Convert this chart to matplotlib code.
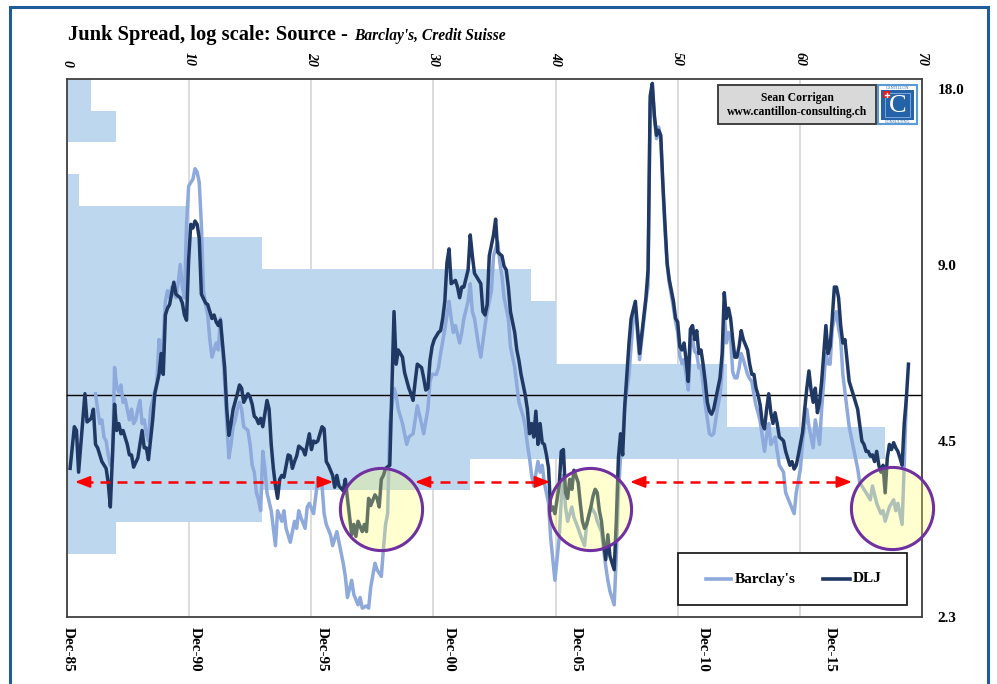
import numpy as np
import matplotlib
matplotlib.use("Agg")
import matplotlib.pyplot as plt
from matplotlib.patches import Rectangle
from matplotlib.lines import Line2D
from matplotlib.ticker import NullLocator

SERIF = ['Liberation Serif', 'DejaVu Serif']

# ---------------------------------------------------------------- data
# x = months since Dec-1985, y = junk spread (%)
dlj_month = [
    1, 3, 4, 5, 8, 9, 11, 12, 13, 14, 16, 18, 19, 20, 22, 23, 24, 25, 26, 28,
    29, 30, 31, 33, 35, 36, 37, 38, 40, 41, 43, 44, 45, 46, 47, 48, 50, 51, 53, 54,
    55, 56, 57, 58, 59, 60, 61, 62, 63, 65, 66, 68, 69, 70, 71, 72, 74, 75, 76, 77,
    78, 80, 81, 82, 83, 85, 86, 87, 88, 89, 90, 91, 92, 94, 95, 96, 97, 98, 99, 100,
    101, 102, 104, 105, 106, 107, 108, 109, 111, 112, 113, 114, 115, 116, 117, 118, 120, 121, 122, 123,
    125, 126, 127, 128, 130, 131, 132, 134, 135, 136, 137, 139, 140, 141, 142, 143, 145, 146, 147, 148,
    149, 150, 152, 153, 154, 155, 156, 158, 159, 161, 162, 163, 164, 165, 167, 168, 169, 170, 171, 172,
    173, 175, 176, 177, 178, 179, 180, 181, 183, 184, 185, 186, 187, 189, 190, 191, 192, 193, 195, 196,
    197, 198, 199, 200, 201, 202, 203, 205, 206, 207, 208, 209, 211, 212, 213, 214, 216, 217, 218, 219,
    220, 221, 222, 223, 224, 225, 226, 227, 228, 229, 230, 232, 233, 234, 235, 236, 237, 238, 239, 241,
    242, 243, 244, 245, 247, 248, 249, 250, 251, 252, 253, 254, 255, 256, 258, 259, 260, 261, 262, 263,
    264, 265, 266, 268, 270, 273, 274, 275, 276, 277, 278, 279, 280, 281, 282, 283, 284, 286, 287, 288,
    289, 290, 291, 292, 293, 294, 295, 296, 297, 298, 299, 300, 301, 302, 303, 304, 305, 306, 307, 308,
    309, 310, 311, 312, 313, 314, 315, 316, 317, 318, 319, 321, 322, 323, 324, 325, 326, 327, 328, 329,
    330, 331, 332, 333, 334, 335, 336, 337, 338, 339, 341, 342, 343, 344, 345, 347, 348, 349, 350, 351,
    352, 353, 354, 355, 356, 357, 358, 359, 360, 361, 362, 363, 364, 365, 366, 367, 368, 369, 370, 371,
    373, 374, 375, 376, 377, 378, 379, 380, 381, 382, 383, 384, 385, 386, 387, 388, 389, 390, 391, 392,
    393, 394, 395, 396, 397,
]
dlj_spread = [
    4.04, 4.76, 4.69, 3.98, 5.42, 4.85, 4.92, 5.10, 4.44, 4.38, 4.15, 4.04, 3.82, 3.47, 5.20, 4.69, 4.82, 4.63, 4.69, 4.44,
    4.26, 4.26, 4.06, 4.21, 4.69, 4.38, 4.38, 4.18, 4.89, 5.42, 5.85, 6.35, 5.85, 7.39, 7.59, 7.70, 8.41, 8.02, 7.91, 7.75,
    7.39, 7.24, 9.20, 10.56, 10.41, 10.70, 10.56, 9.99, 8.02, 7.75, 7.70, 7.29, 7.39, 7.19, 7.09, 7.24, 6.01, 5.10, 4.60, 4.82,
    5.10, 5.42, 5.61, 5.54, 5.24, 5.42, 5.35, 5.20, 4.96, 4.92, 4.82, 4.92, 4.76, 5.28, 5.10, 4.44, 4.04, 3.77, 3.59, 3.87,
    3.93, 3.90, 4.26, 4.24, 4.04, 4.15, 4.24, 4.41, 4.35, 4.26, 4.44, 4.63, 4.35, 4.50, 4.47, 4.50, 4.76, 4.72, 4.15, 4.09,
    3.93, 3.75, 3.93, 3.77, 3.70, 3.87, 3.59, 3.11, 3.24, 3.09, 3.28, 3.15, 3.24, 3.15, 3.59, 3.49, 3.64, 3.59, 3.47, 3.87,
    3.93, 4.04, 4.09, 5.54, 7.49, 6.09, 6.44, 6.26, 5.89, 5.54, 5.42, 5.28, 5.69, 6.09, 6.01, 5.77, 5.50, 5.54, 6.18, 6.53,
    6.71, 6.90, 6.95, 7.29, 7.80, 9.08, 9.59, 8.36, 8.47, 8.25, 7.91, 8.25, 8.25, 8.83, 10.13, 9.33, 8.71, 8.59, 8.36, 7.49,
    7.39, 7.70, 9.33, 9.72, 10.13, 10.78, 9.46, 9.33, 8.95, 8.83, 8.25, 7.49, 6.90, 6.44, 6.18, 5.85, 5.39, 5.10, 4.63, 4.82,
    4.57, 5.06, 4.44, 4.82, 4.47, 4.44, 4.26, 4.04, 3.42, 3.47, 3.38, 3.77, 4.32, 4.35, 3.67, 3.59, 3.87, 3.72, 4.01, 3.82,
    3.52, 3.28, 3.19, 3.24, 3.47, 3.62, 3.72, 3.67, 3.42, 3.28, 3.02, 2.82, 3.11, 2.86, 2.71, 3.28, 4.21, 4.63, 4.26, 5.17,
    5.85, 6.62, 7.29, 7.80, 6.35, 7.91, 8.83, 17.5, 18.4, 16.2, 15.0, 15.3, 15.0, 12.4, 10.56, 9.08, 8.50, 7.80, 7.29, 7.19,
    6.53, 6.44, 6.62, 6.18, 5.69, 6.99, 7.09, 6.71, 6.95, 6.35, 6.44, 6.09, 5.69, 5.24, 5.06, 5.00, 5.10, 5.31, 5.54, 5.77,
    6.35, 8.07, 7.29, 7.59, 7.29, 6.71, 6.26, 6.26, 6.53, 6.95, 6.71, 6.44, 6.09, 5.85, 5.85, 5.54, 5.39, 5.17, 4.82, 4.72,
    5.10, 5.42, 5.03, 4.82, 5.03, 4.82, 4.57, 4.54, 4.50, 4.32, 4.09, 4.15, 4.03, 4.09, 4.26, 4.66, 5.10, 5.54, 5.93, 5.50,
    5.24, 5.54, 5.03, 5.24, 5.69, 6.35, 7.09, 6.35, 6.53, 7.29, 8.25, 8.25, 7.91, 7.09, 6.62, 6.71, 6.18, 5.69, 5.54, 5.39,
    5.10, 4.79, 4.50, 4.44, 4.32, 4.32, 4.24, 4.26, 4.15, 4.32, 4.09, 3.98, 4.09, 3.67, 4.21, 4.44, 4.35, 4.47, 4.38, 4.32,
    4.21, 4.09, 4.82, 5.31, 6.09,
]

barclays_month = [
    13, 14, 15, 16, 17, 18, 19, 20, 21, 22, 23, 24, 25, 26, 27, 29, 30, 31, 32, 33,
    34, 35, 36, 37, 38, 39, 41, 42, 43, 44, 45, 46, 47, 48, 49, 51, 52, 53, 54, 55,
    56, 57, 59, 60, 61, 62, 63, 64, 65, 66, 67, 68, 69, 70, 71, 72, 74, 75, 76, 77,
    78, 79, 80, 81, 82, 83, 85, 86, 87, 88, 89, 90, 91, 92, 93, 94, 96, 97, 98, 99,
    101, 102, 103, 105, 107, 108, 109, 110, 112, 113, 114, 116, 117, 118, 120, 121, 122, 124, 125, 127,
    128, 130, 131, 132, 134, 135, 137, 138, 139, 141, 142, 143, 145, 146, 148, 149, 150, 151, 152, 154,
    155, 156, 158, 159, 160, 161, 163, 164, 165, 167, 168, 170, 171, 172, 174, 175, 176, 178, 180, 181,
    182, 183, 185, 186, 187, 189, 190, 191, 192, 194, 195, 197, 198, 200, 201, 203, 204, 205, 206, 208,
    209, 211, 212, 213, 215, 216, 217, 218, 219, 220, 222, 223, 224, 225, 227, 228, 229, 230, 232, 233,
    234, 235, 236, 238, 239, 241, 242, 244, 245, 247, 249, 250, 252, 253, 254, 255, 256, 258, 259, 260,
    261, 262, 263, 265, 266, 267, 268, 270, 273, 274, 275, 276, 277, 278, 279, 280, 281, 282, 283, 284,
    286, 287, 288, 289, 290, 291, 292, 293, 294, 295, 296, 297, 298, 299, 300, 301, 302, 303, 304, 305,
    306, 307, 308, 309, 310, 311, 312, 313, 314, 315, 316, 317, 318, 319, 321, 322, 323, 324, 325, 326,
    327, 328, 329, 330, 331, 332, 333, 334, 336, 338, 339, 341, 343, 344, 346, 347, 349, 350, 352, 353,
    355, 356, 358, 359, 360, 361, 362, 363, 364, 365, 366, 368, 369, 371, 373, 374, 376, 377, 379, 380,
    382, 384, 385, 386, 388, 390, 391, 392, 394, 395, 396,
]
barclays_spread = [
    5.42, 5.10, 4.82, 4.89, 4.57, 4.50, 4.26, 4.09, 4.15, 6.01, 5.58, 5.46, 5.61, 5.24, 5.31, 4.89, 5.10, 4.82, 4.89, 5.10,
    5.28, 4.82, 4.89, 4.63, 4.50, 5.10, 5.46, 5.69, 6.71, 6.09, 6.71, 7.80, 8.13, 7.91, 8.25, 7.91, 8.36, 9.02, 8.25, 7.91,
    10.56, 12.28, 12.62, 13.15, 12.98, 12.45, 10.56, 8.13, 7.70, 7.39, 6.71, 6.26, 6.44, 6.62, 6.44, 7.29, 5.69, 4.82, 4.21, 4.44,
    4.76, 4.89, 5.10, 5.24, 5.10, 4.76, 4.69, 4.44, 4.09, 3.98, 3.67, 3.57, 3.42, 4.32, 4.04, 3.67, 3.42, 3.19, 2.98, 3.42,
    3.28, 3.42, 3.19, 3.02, 3.28, 3.19, 3.42, 3.33, 3.19, 3.47, 3.52, 3.38, 3.62, 3.87, 3.77, 3.38, 3.24, 3.11, 2.98, 3.15,
    3.02, 2.78, 2.64, 2.43, 2.60, 2.46, 2.36, 2.43, 2.33, 2.35, 2.33, 2.53, 2.78, 2.71, 2.64, 2.94, 3.24, 3.38, 4.82, 5.54,
    5.39, 5.10, 4.82, 4.63, 4.44, 4.57, 4.63, 4.89, 5.17, 4.82, 4.63, 5.10, 5.69, 5.85, 5.85, 6.01, 6.35, 6.99, 7.80, 7.29,
    6.90, 7.09, 6.62, 6.90, 7.29, 7.80, 8.36, 7.49, 7.29, 6.53, 6.26, 7.09, 7.49, 8.13, 9.33, 9.86, 9.08, 8.59, 7.91, 7.29,
    6.53, 6.01, 5.61, 5.24, 4.96, 4.76, 4.44, 4.21, 3.93, 3.77, 4.15, 3.98, 4.09, 3.82, 3.52, 3.07, 2.82, 2.60, 3.07, 3.57,
    3.93, 3.47, 3.28, 3.47, 3.33, 3.19, 3.11, 2.98, 3.24, 3.47, 3.38, 3.28, 3.15, 2.94, 2.75, 2.60, 2.49, 2.36, 2.86, 3.67,
    4.21, 4.50, 5.17, 5.85, 6.53, 7.29, 7.60, 6.20, 7.80, 8.30, 17.0, 18.2, 16.0, 14.8, 15.5, 14.8, 12.2, 10.3, 9.0, 8.4,
    7.6, 7.2, 6.9, 6.3, 6.1, 6.2, 5.85, 5.5, 6.6, 6.71, 6.4, 6.35, 6.0, 6.05, 5.6, 5.2, 4.9, 4.63, 4.6, 4.63,
    4.9, 5.17, 5.4, 5.93, 7.49, 6.62, 6.9, 6.71, 5.9, 5.77, 5.77, 6.0, 6.35, 6.2, 5.85, 5.75, 5.69, 5.4, 5.17, 5.03,
    4.85, 4.57, 4.32, 4.6, 4.82, 4.44, 4.5, 4.57, 4.09, 3.98, 3.67, 3.52, 3.38, 3.67, 4.04, 4.50, 5.10, 4.76, 4.38, 4.89,
    4.44, 5.10, 6.35, 6.1, 6.09, 7.0, 7.29, 7.49, 7.0, 6.71, 5.85, 5.10, 4.76, 4.38, 4.04, 3.82, 3.72, 3.67, 3.57, 3.77,
    3.52, 3.38, 3.42, 3.28, 3.47, 3.57, 3.42, 3.52, 3.24, 4.09, 5.31,
]

# months spent in each spread bucket, lowest bucket first (top axis, 0-70)
hist_counts = [0, 0, 4, 16, 33, 67, 54, 54, 40, 40, 38, 16, 10, 1, 0, 4, 2]

long_run_level = 5.4
floor_level = 3.83
arrow_spans = [(3.3, 125.2), (163.9, 227.7), (265.5, 370.3)]
circle_centres = [(147.8, 3.44), (246.6, 3.44), (389.2, 3.45)]

y_ticks = [2.25, 4.5, 9.0, 18.0]
y_tick_labels = ['2.3', '4.5', '9.0', '18.0']
date_ticks = [0, 60, 120, 180, 240, 300, 360]
date_labels = ['Dec-85', 'Dec-90', 'Dec-95', 'Dec-00', 'Dec-05', 'Dec-10', 'Dec-15']
count_ticks = list(range(0, 71, 10))

# ---------------------------------------------------------------- figure
W, H = 997, 684
fig = plt.figure(figsize=(W / 100, H / 100), dpi=100)
fig.patch.set_facecolor('white')


def fx(px):
    return px / W


def fy(py):
    return 1 - py / H


L, T, R, B = 67, 79, 922, 617
pos = [fx(L), fy(B), (R - L) / W, (B - T) / H]

# histogram axes (top count axis)
ax_h = fig.add_axes(pos, zorder=1)
ax_h.set_xlim(0, 70)
ax_h.set_ylim(0, len(hist_counts))
ax_h.barh(np.arange(len(hist_counts)) + 0.5, hist_counts, height=1.0,
          color='#BDD7EE', linewidth=0, zorder=2)
ax_h.xaxis.tick_top()
ax_h.set_xticks(count_ticks, [str(c) for c in count_ticks], rotation=-90,
                fontstyle='italic', fontweight='bold', fontsize=10, family=SERIF)
ax_h.tick_params(axis='x', length=0, pad=9)
ax_h.set_yticks([])
ax_h.set_axisbelow(True)
ax_h.grid(axis='x', color='#D9D9D9', linewidth=1.3)
for sp in ax_h.spines.values():
    sp.set_visible(False)

# spread axes (dates along the bottom, log scale on the right)
ax = fig.add_axes(pos, zorder=2)
ax.patch.set_alpha(0)
ax.set_yscale('log')
ax.set_ylim(2.25, 18.72)
ax.set_xlim(-0.47, 403.4)
ax.yaxis.tick_right()
ax.set_yticks(y_ticks, y_tick_labels, fontsize=11, fontweight='bold', family=SERIF)
ax.yaxis.set_minor_locator(NullLocator())
ax.set_xticks(date_ticks, date_labels, rotation=-90, fontsize=11,
              fontweight='bold', family=SERIF)
ax.tick_params(length=0)
ax.tick_params(axis='y', pad=11)
ax.tick_params(axis='x', pad=7)
for sp in ax.spines.values():
    sp.set_color('#404040')
    sp.set_linewidth(1.3)

ax.axhline(long_run_level, color='black', linewidth=1.0, zorder=3)
ax.plot(barclays_month, barclays_spread, color='#8EA9DB', linewidth=2.5,
        solid_joinstyle='round', zorder=4)
ax.plot(dlj_month, dlj_spread, color='#1F3864', linewidth=2.5,
        solid_joinstyle='round', zorder=5)

# double-headed dashed arrows marking the floor
for a, b in arrow_spans:
    ax.plot([a + 4, b - 4], [floor_level, floor_level], color='red',
            linewidth=1.8, linestyle=(0, (4, 2.8)), zorder=6)
    for tip, tail in ((a, a + 5), (b, b - 5)):
        ax.annotate('', xy=(tip, floor_level), xytext=(tail, floor_level),
                    arrowprops=dict(arrowstyle='-|>,head_length=0.9,head_width=0.35',
                                    color='red', lw=1.5, shrinkA=0, shrinkB=0),
                    zorder=6)

cx, cy = zip(*circle_centres)
ax.scatter(cx, cy, s=3500, facecolors=[(1, 1, 0.4, 0.3)], edgecolors='#7030A0',
           linewidths=2.2, zorder=7, clip_on=False)

# legend
fig.add_artist(Rectangle((fx(678), fy(605)), fx(907) - fx(678), fy(553) - fy(605),
                         transform=fig.transFigure, facecolor='white',
                         edgecolor='#202020', linewidth=1.3, zorder=10))
fig.add_artist(Line2D([fx(706), fx(731)], [fy(579), fy(579)], color='#8EA9DB',
                      linewidth=2.6, transform=fig.transFigure, zorder=11))
fig.text(fx(735), fy(579), "Barclay's", fontsize=11, fontweight='bold',
         family=SERIF, va='center', ha='left', zorder=11)
fig.add_artist(Line2D([fx(823), fx(850)], [fy(579), fy(579)], color='#1F3864',
                      linewidth=2.6, transform=fig.transFigure, zorder=11))
fig.text(fx(853), fy(579), 'DLJ', fontsize=11, fontweight='bold',
         family=SERIF, va='center', ha='left', zorder=11)

# author box
fig.add_artist(Rectangle((fx(718), fy(124)), fx(876) - fx(718), fy(85) - fy(124),
                         transform=fig.transFigure, facecolor='#D9D9D9',
                         edgecolor='#404040', linewidth=1.4, zorder=10))
fig.text(fx(797), fy(98), 'Sean Corrigan', fontsize=8.4, fontweight='bold',
         family=SERIF, ha='center', va='center', zorder=11)
fig.text(fx(797), fy(112), 'www.cantillon-consulting.ch', fontsize=8.4,
         fontweight='bold', family=SERIF, ha='center', va='center', zorder=11)

# logo
fig.add_artist(Rectangle((fx(878), fy(124)), fx(917) - fx(878), fy(85) - fy(124),
                         transform=fig.transFigure, facecolor='white',
                         edgecolor='#5B9BD5', linewidth=1.5, zorder=10))
fig.add_artist(Rectangle((fx(881), fy(120)), fx(914) - fx(881), fy(90) - fy(120),
                         transform=fig.transFigure, facecolor='#2563A8',
                         edgecolor='none', zorder=11))
fig.add_artist(Rectangle((fx(885), fy(117)), fx(910) - fx(885), fy(93) - fy(117),
                         transform=fig.transFigure, facecolor='none',
                         edgecolor='#8DB3E2', linewidth=0.6, zorder=12))
fig.text(fx(898), fy(106), 'C', fontsize=19, color='white', family=SERIF,
         ha='center', va='center', zorder=13)
fig.add_artist(Rectangle((fx(883), fy(98)), fx(890) - fx(883), fy(91) - fy(98),
                         transform=fig.transFigure, facecolor='#E02020',
                         edgecolor='none', zorder=13))
fig.add_artist(Line2D([fx(884.5), fx(888.5)], [fy(94.5), fy(94.5)], color='white',
                      linewidth=1.0, transform=fig.transFigure, zorder=14))
fig.add_artist(Line2D([fx(886.5), fx(886.5)], [fy(92.5), fy(96.5)], color='white',
                      linewidth=1.0, transform=fig.transFigure, zorder=14))
fig.text(fx(897.5), fy(87.8), 'CANTILLON', fontsize=3, color='#2563A8',
         family=SERIF, ha='center', va='center', zorder=13)
fig.text(fx(897.5), fy(122), 'CONSULTING', fontsize=3, color='#2563A8',
         family=SERIF, ha='center', va='center', zorder=13)

# outer frame
fig.add_artist(Rectangle((fx(10), fy(720)), fx(988) - fx(10), fy(7) - fy(720),
                         transform=fig.transFigure, fill=False,
                         edgecolor='#1F5C99', linewidth=2.2, clip_on=False, zorder=20))

# title
t1 = fig.text(fx(68), fy(40), 'Junk Spread, log scale: Source -', fontsize=14.8,
              fontweight='bold', family=SERIF, va='baseline', ha='left')
fig.canvas.draw()
bb = t1.get_window_extent(renderer=fig.canvas.get_renderer())
fig.text((bb.x1 + 6) / W, fy(40), "Barclay's, Credit Suisse", fontsize=11.2,
         fontweight='bold', fontstyle='italic', family=SERIF, va='baseline', ha='left')

fig.savefig('out.png', dpi=100)
